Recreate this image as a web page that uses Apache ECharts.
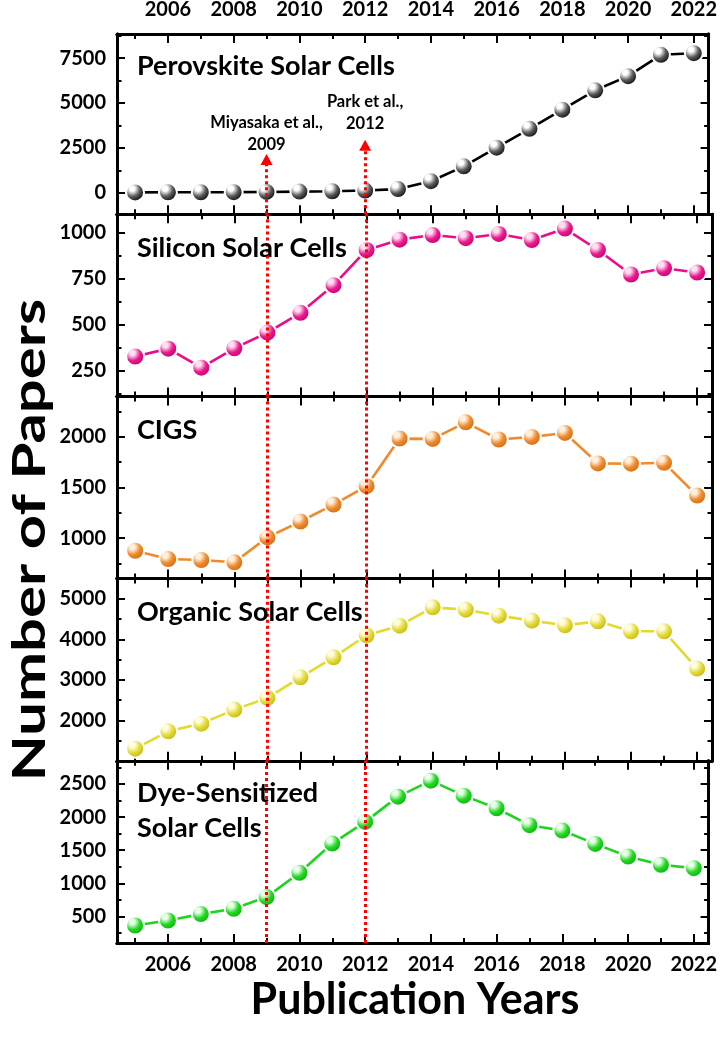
<!DOCTYPE html>
<html>
<head>
<meta charset="utf-8">
<script src="https://cdn.jsdelivr.net/npm/echarts@6/dist/echarts.min.js"></script>
<style>
html,body{margin:0;padding:0;background:#fff;}
#chart{width:720px;height:1038px;}
</style>
</head>
<body>
<div id="chart"></div>
<script>
// ---------------- data ----------------
const years = [2005,2006,2007,2008,2009,2010,2011,2012,2013,2014,2015,2016,2017,2018,2019,2020,2021,2022];
const perovskite = [15,20,25,30,40,60,80,120,200,640,1470,2510,3560,4630,5710,6500,7690,7780];
const silicon    = [328,371,268,373,458,565,715,906,962,987,970,993,960,1022,906,773,807,784];
const cigs       = [875,793,784,761,1007,1164,1331,1513,1983,1980,2144,1974,2000,2039,1738,1735,1744,1420];
const organic    = [1300,1728,1918,2264,2553,3062,3556,4100,4338,4790,4733,4585,4462,4346,4444,4198,4198,3277];
const dssc       = [364,440,536,616,793,1160,1601,1928,2309,2550,2324,2134,1878,1797,1596,1405,1280,1230];

const panelNames = ['Perovskite Solar Cells','Silicon Solar Cells','CIGS','Organic Solar Cells','Dye-Sensitized\nSolar Cells'];
const xMajorTicks = [2006,2008,2010,2012,2014,2016,2018,2020,2022];
const xMinorTicks = [2005,2007,2009,2011,2013,2015,2017,2019,2021];

const perovskiteTicks = [0,2500,5000,7500];
const perovskiteMinor = [1250,3750,6250,8750];
const siliconTicks = [250,500,750,1000];
const siliconMinor = [125,375,625,875];
const cigsTicks = [1000,1500,2000];
const cigsMinor = [750,1250,1750,2250];
const organicTicks = [2000,3000,4000,5000];
const organicMinor = [1500,2500,3500,4500];
const dsscTicks = [500,1000,1500,2000,2500];
const dsscMinor = [250,750,1250,1750,2250,2750];

const yRanges = [[-1200,8850],[112,1100],[600,2400],[1000,5500],[100,2850]];

const annotationYears = [2009, 2012];
const annotationLabels = ['Miyasaka et al.,\n2009', 'Park et al.,\n2012'];
const annotationArrowEnd = [1850, 2650];

// ---------------- layout ----------------
const FONT = 'Lato, "Open Sans", sans-serif';
const seriesData = [perovskite, silicon, cigs, organic, dssc];
const majors = [perovskiteTicks, siliconTicks, cigsTicks, organicTicks, dsscTicks];
const minors = [perovskiteMinor, siliconMinor, cigsMinor, organicMinor, dsscMinor];
const colors = [
  ['#ffffff','#5a5a5a','#000000'],
  ['#ffe0f2','#ec1a8f','#b8006a'],
  ['#fff0dc','#f08a2c','#c86a14'],
  ['#fffde0','#e4db36','#bdb214'],
  ['#e8ffe8','#22d922','#0fa80f']
];
const lineColors = ['#000000','#ec0b8a','#f08a2c','#e3da30','#1fd41f'];

const TOP = 32, BOTTOM = 943, LEFT = 117, RIGHT = 8;
const H = (BOTTOM - TOP) / 5;
const XMIN = 2004.45, XMAX = 2022.45;

const grids = [], xAxes = [], yAxes = [], series = [], titles = [];
const lineW = 3;
const plain = v => String(v);
const labelDist = [4, 10];

function xAxis(gi, pos, ticks, len, showLabels) {
  return {
    type:'value', gridIndex:gi, position:pos, min:XMIN, max:XMAX,
    axisLine:{show:true, onZero:false, lineStyle:{color:'#000', width:lineW}},
    axisTick:{show:true, inside:true, length:len, lineStyle:{color:'#000', width:2}, customValues:ticks},
    axisLabel:{show:showLabels, customValues:ticks, formatter:plain, color:'#000', fontFamily:FONT, fontWeight:'bold', fontSize:20, margin:pos === 'top' ? 14 : 12},
    splitLine:{show:false}
  };
}
function yAxis(gi, pos, ticks, len, showLabels) {
  return {
    type:'value', gridIndex:gi, position:pos, min:yRanges[gi][0], max:yRanges[gi][1],
    axisLine:{show:true, onZero:false, lineStyle:{color:'#000', width:lineW}},
    axisTick:{show:true, inside:true, length:len, lineStyle:{color:'#000', width:2}, customValues:ticks},
    axisLabel:{show:showLabels, customValues:ticks, formatter:plain, color:'#000', fontFamily:FONT, fontWeight:'bold', fontSize:20, margin:11},
    splitLine:{show:false}
  };
}

for (let i = 0; i < 5; i++) {
  const top = TOP + i * H;
  grids.push({left:LEFT, right:RIGHT, top:top, height:H});
  const xb = xAxes.length;
  xAxes.push(xAxis(i,'bottom', xMajorTicks, 9, i === 4));
  xAxes.push(xAxis(i,'bottom', xMinorTicks, 5, false));
  xAxes.push(xAxis(i,'top', xMajorTicks, 9, i === 0));
  xAxes.push(xAxis(i,'top', xMinorTicks, 5, false));
  const yb = yAxes.length;
  yAxes.push(yAxis(i,'left', majors[i], 8, true));
  yAxes.push(yAxis(i,'left', minors[i], 4.5, false));
  yAxes.push(yAxis(i,'right', majors[i], 8, false));
  yAxes.push(yAxis(i,'right', minors[i], 4.5, false));

  const c = colors[i];
  let mlData;
  if (i === 0) {
    mlData = annotationYears.map((yr, k) => [
      {coord:[yr, yRanges[0][0]], symbol:'none'},
      {coord:[yr, annotationArrowEnd[k]], symbol:'triangle', symbolSize:[12,11],
       label:{show:true, position:'end', formatter:annotationLabels[k], distance:labelDist[k],
              color:'#000', fontFamily:FONT, fontWeight:'bold', fontSize:16.5, lineHeight:22, align:'center'}}
    ]);
  } else {
    mlData = annotationYears.map(yr => ({xAxis:yr}));
  }
  series.push({
    type:'line', xAxisIndex:xb, yAxisIndex:yb, data:[], z:1, silent:true,
    markLine:{
      silent:true, animation:false, symbol:['none','none'],
      lineStyle:{color:'#ff0000', width:3, type:[3,3]},
      label:{show:false},
      data:mlData
    }
  });
  series.push({
    type:'line', name:panelNames[i], xAxisIndex:xb, yAxisIndex:yb, z:3,
    data: years.map((y, k) => [y, seriesData[i][k]]),
    symbol:'circle', symbolSize:18, showSymbol:true,
    lineStyle:{color:lineColors[i], width:2.6},
    itemStyle:{
      color:{type:'radial', x:0.36, y:0.32, r:0.7, colorStops:[
        {offset:0, color:c[0]}, {offset:0.18, color:c[0]}, {offset:0.55, color:c[1]}, {offset:1, color:c[2]}
      ]},
      borderColor:'#ffffff', borderWidth:2
    },
    emphasis:{disabled:true},
    animation:false
  });
  titles.push({
    text:panelNames[i], left:137, top: top + (i === 4 ? 15 : 19), padding:0,
    textStyle:{color:'#000', fontFamily:FONT, fontWeight:'bold', fontSize:27, lineHeight: (i === 4 ? 35 : 30)}
  });
}

const chart = echarts.init(document.getElementById('chart'), null, {renderer:'canvas'});
chart.setOption({
  backgroundColor:'#ffffff',
  animation:false,
  title:titles,
  grid:grids,
  xAxis:xAxes,
  yAxis:yAxes,
  series:series,
  graphic:[
    {type:'text', x:30, y:540, rotation:Math.PI/2, scaleX:1.3,
     style:{text:'Number of Papers', fill:'#000', font:'bold 46px ' + FONT, textAlign:'center', textVerticalAlign:'middle'}},
    {type:'text', x:415, y:1000,
     style:{text:'Publication Years', fill:'#000', font:'bold 43px ' + FONT, textAlign:'center', textVerticalAlign:'middle'}}
  ]
});
</script>
</body>
</html>
